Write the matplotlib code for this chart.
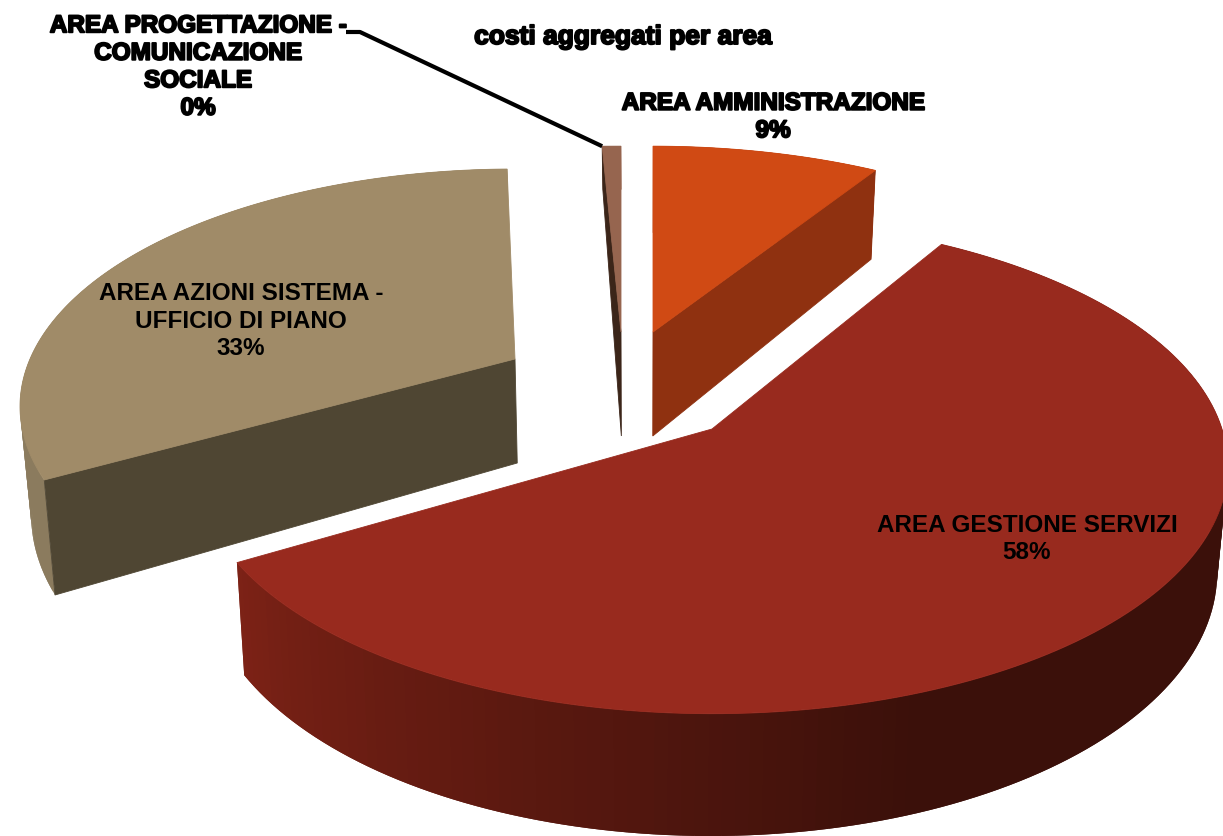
import matplotlib
matplotlib.use("Agg")
import matplotlib.pyplot as plt
import matplotlib.patheffects as pe
import numpy as np
from matplotlib.colors import to_rgb
from matplotlib.patches import Polygon

plt.rcParams['font.family'] = ['Liberation Sans', 'DejaVu Sans']

# clockwise from 12 o'clock
areas = ["AMMINISTRAZIONE", "GESTIONE", "AZIONI", "PROGETTAZIONE"]
values = [8.9, 58.0, 32.65, 0.45]

top_colors = ["#d04a14", "#982a1e", "#a08b68", "#96654f"]
side_light = ["#8f3110", "#7d2216", "#8b7b5e", "#96654f"]
side_dark = ["#8f3110", "#3b100a", "#8b7b5e", "#96654f"]
cut_colors = ["#8f3110", None, "#4f4633", "#3b2519"]
cut_side = ["end", None, "start", "start"]

# pixel position of each slice's tip and its shape
centers = [(653, 333), (712, 430), (515, 360), (621, 333)]
radius_x = [490, 510, 485, 800]
radius_y = [223, 242, 228, 223]
persp = [0.2, 0.15, 0.2, 0.2]
wall_depth = [1, 1, 1, 0.5]
turn = [0, -1.5, 0.5, 0]
depth = 104

# walls lean a little towards the middle of the picture
vanish_x = 640
lean = 0.018

draw_order = [2, 3, 0, 1]


def project(i, theta):
    cx, cy = centers[i]
    u = np.sin(np.radians(theta + turn[i]))
    v = np.cos(np.radians(theta + turn[i]))
    s = 1 / (1 + persp[i] * v)
    return cx + radius_x[i] * u * s, cy - radius_y[i] * v * s, depth * s * wall_depth[i]


def low_x(x):
    return x + (vanish_x - x) * lean


def draw_slice(ax, i, start, end):
    cx, cy = centers[i]
    thetas = np.linspace(start, end, 160)
    x, y, d = project(i, thetas)

    # outer wall, in short overlapping strips so the shade can change along it
    light = np.array(to_rgb(side_light[i]))
    dark = np.array(to_rgb(side_dark[i]))
    for j in range(len(thetas) - 1):
        t = np.clip((end - thetas[j]) / 80, 0, 1)
        col = light + (dark - light) * t
        n = min(j + 2, len(thetas) - 1)
        quad = [(x[j], y[j]), (x[n], y[n]),
                (low_x(x[n]), y[n] + d[n]), (low_x(x[j]), y[j] + d[j])]
        ax.add_patch(Polygon(quad, closed=True, facecolor=col, edgecolor="none"))

    # the cut face that looks at the viewer
    if cut_colors[i] is not None:
        k = 0 if cut_side[i] == "start" else -1
        face = [(cx, cy), (x[k], y[k]), (low_x(x[k]), y[k] + d[k]), (low_x(cx), cy + depth)]
        ax.add_patch(Polygon(face, closed=True, facecolor=cut_colors[i],
                             edgecolor=cut_colors[i], linewidth=0.6))

    top = np.column_stack((np.append(x, cx), np.append(y, cy)))
    ax.add_patch(Polygon(top, closed=True, facecolor=top_colors[i],
                         edgecolor=top_colors[i], linewidth=0.6))


fig = plt.figure(figsize=(12.23, 8.37), dpi=100)
ax = fig.add_axes([0, 0, 1, 1])
ax.set_xlim(0, 1223)
ax.set_ylim(837, 0)
ax.axis("off")

edges = np.cumsum([0] + values) / sum(values) * 360
for i in draw_order:
    draw_slice(ax, i, edges[i], edges[i + 1])

# leader of the smallest slice
lx, ly, _ = project(3, edges[3])
ax.plot([346, 360, lx], [33, 33, ly], color="black", lw=3, solid_capstyle="butt")

heavy = [pe.withStroke(linewidth=1.4, foreground="black")]
ax.text(198, 68, "AREA PROGETTAZIONE -\nCOMUNICAZIONE\nSOCIALE\n0%", ha="center", va="center",
        fontsize=17.5, fontweight="bold", linespacing=1.25, path_effects=heavy)
ax.text(623, 38, "costi aggregati per area", ha="center", va="center",
        fontsize=19, fontweight="bold", path_effects=heavy)
ax.text(773, 118, "AREA AMMINISTRAZIONE\n9%", ha="center", va="center",
        fontsize=17.5, fontweight="bold", linespacing=1.25, path_effects=heavy)
ax.text(241, 321, "AREA AZIONI SISTEMA -\nUFFICIO DI PIANO\n33%", ha="center", va="center",
        fontsize=17.5, fontweight="bold", linespacing=1.25)
ax.text(1027, 539, "AREA GESTIONE SERVIZI\n58%", ha="center", va="center",
        fontsize=17.5, fontweight="bold", linespacing=1.25)

fig.savefig("out.png", dpi=100, facecolor="white")
